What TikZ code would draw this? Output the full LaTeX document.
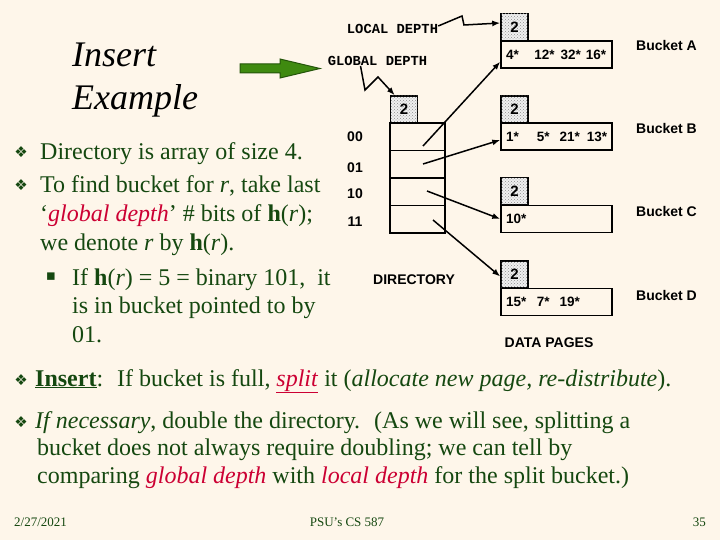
\documentclass[tikz,border=0pt]{standalone}
\usepackage{fontspec}
\setmainfont{Liberation Serif}
\newfontfamily\arialfont{Liberation Sans}
\newfontfamily\courfont{Liberation Mono}
\newfontfamily\dejavu{DejaVu Sans}
\usetikzlibrary{patterns,arrows.meta}

\definecolor{slidebg}{HTML}{FEF6EA}
\definecolor{slidetxt}{HTML}{154810}
\definecolor{hilite}{HTML}{CC0033}
\definecolor{arrowgreen}{HTML}{3F8A10}
\definecolor{arrowdark}{HTML}{24550A}
\newcommand{\hofr}{\textbf{h}(\textit{r})}
\newcommand{\diabul}{{\dejavu\char"2756}}
\newcommand{\sqbul}{{\dejavu\char"25AA}}

\tikzset{
  slidetext/.style={anchor=base west,text=slidetxt,font=\fontsize{24}{28}\selectfont},
  bul/.style={text=slidetxt,font=\dejavu\fontsize{15}{15}\selectfont},
  tag/.style={font=\arialfont\bfseries\fontsize{14}{16}\selectfont},
  mono/.style={font=\courfont\bfseries\fontsize{13.8}{15}\selectfont},
  ldbox/.style={draw,line width=1.5pt,minimum width=27pt,minimum height=27pt,fill=black!6,
    postaction={pattern=crosshatch dots,pattern color=black!45},font=\arialfont\bfseries\fontsize{15}{17}\selectfont},
  record/.style={draw,line width=1.5pt,minimum height=27pt,text width=101pt,inner xsep=5pt,align=left,
    font=\arialfont\bfseries\fontsize{13.5}{15}\selectfont},
  cell/.style={draw,line width=1.5pt,minimum width=55pt,minimum height=27.5pt},
  conn/.style={line width=1.5pt,-{Latex[length=8pt,width=6pt]}}
}

\begin{document}
\begin{tikzpicture}[x=1pt,y=-1pt,every node/.style={inner sep=0pt}]
\useasboundingbox (0,0) rectangle (720,540);
\fill[slidebg] (0,0) rectangle (720,540);

% title and green arrow
\node[anchor=base west,font=\itshape\fontsize{36}{40}\selectfont] (ttl1) at (72,67) {Insert};
\node[anchor=base west,font=\itshape\fontsize{36}{40}\selectfont] (ttl2) at (72,110) {Example};
\filldraw[fill=arrowgreen,draw=arrowdark,line width=1pt]
  (240,64) -- (280,64) -- (280,59) -- (320,68.5) -- (280,78) -- (280,73) -- (240,73) -- cycle;

% bullets on the left
\node[bul] (m1) at (21,152) {\diabul};
\node[bul] (m2) at (21,185) {\diabul};
\node[bul] (m3) at (51,277) {\sqbul};
\node[slidetext] (b1) at (40,160) {Directory is array of size 4.};
\node[slidetext] (b2) at (40,193) {To find bucket for \textit{r}, take last};
\node[slidetext] (b3) at (40,222) {`\textcolor{hilite}{\textit{global depth}}' \# bits of \hofr;};
\node[slidetext] (b4) at (40,251) {we denote \textit{r} by \hofr.};
\node[slidetext] (b5) at (72,285) {If \hofr{} = 5 = binary 101,~ it};
\node[slidetext] (b6) at (72,313) {is in bucket pointed to by};
\node[slidetext] (b7) at (72,342) {01.};

% directory
\node[mono] (gl) at (377.5,61) {GLOBAL DEPTH};
\node[mono] (ld) at (392.5,29) {LOCAL DEPTH};
\node[ldbox] (gd) at (404,109.5) {2};
\node[cell] (d00) at (417.5,136.75) {};
\node[cell] (d01) at (417.5,164.25) {};
\node[cell] (d10) at (417.5,191.75) {};
\node[cell] (d11) at (417.5,219.25) {};
\node[tag] (n00) at (355,137) {00};
\node[tag] (n01) at (355,168) {01};
\node[tag] (n10) at (355,194) {10};
\node[tag] (n11) at (355,222) {11};
\node[tag] (dir) at (414,280) {DIRECTORY};

% buckets
\node[ldbox] (da) at (514.5,27) {2};
\node[record] (ra) at (556.5,54.5) {\mbox{4*\hspace{15.5pt}12*\hspace{6pt}32*\hspace{5pt}16*}};
\node[ldbox] (db) at (514.5,109.5) {2};
\node[record] (rb) at (556.5,136.5) {\mbox{1*\hspace{18pt}5*\hspace{10pt}21*\hspace{7pt}13*}};
\node[ldbox] (dc) at (514.5,191) {2};
\node[record] (rc) at (556.5,219) {10*};
\node[ldbox] (dd) at (514.5,274.5) {2};
\node[record] (rd) at (556.5,302) {\mbox{15*\hspace{10.5pt}7*\hspace{10pt}19*}};
\node[tag] (bka) at (666.5,45) {Bucket A};
\node[tag] (bkb) at (666.5,128) {Bucket B};
\node[tag] (bkc) at (666.5,211) {Bucket C};
\node[tag] (bkd) at (666.5,295) {Bucket D};
\node[tag] (dp) at (549,343) {DATA PAGES};

\coordinate (p00) at (423,146);
\coordinate (p01) at (423,164);
\coordinate (p10) at (427,191);
\coordinate (p11) at (433,220);
\draw[conn] ([yshift=3pt]ld.east) -- (462,16) -- (464,25) -- ([yshift=4pt]da.west);
\draw[conn] ([xshift=-17pt]gl.south) -- (365,90) -- (378,77) -- ([xshift=5pt]gd.north west);
\draw[conn] (p00) -- ([yshift=7pt]ra.south west);
\draw[conn] (p01) -- ([yshift=-3.5pt]rb.west);
\draw[conn] (p10) -- (rc.west);
\draw[conn] (p11) -- ([yshift=-2pt]dd.west);

% bottom bullets
\node[bul] (m4) at (21,380) {\diabul};
\node[bul] (m5) at (21,422) {\diabul};
\node[slidetext] (i1) at (35,386) {\underline{\textbf{Insert}}:~ If bucket is full, \textcolor{hilite}{\underline{\textit{split}}} it (\textit{allocate new page, re-distribute}).};
\node[slidetext] (i2) at (35,428) {\textit{If necessary}, double the directory.~ (As we will see, splitting a};
\node[slidetext] (i3) at (37,455) {bucket does not always require doubling; we can tell by};
\node[slidetext] (i4) at (37,483) {comparing \textcolor{hilite}{\textit{global depth}} with \textcolor{hilite}{\textit{local depth}} for the split bucket.)};

% footer
\node[anchor=base west,text=slidetxt,font=\fontsize{13}{15}\selectfont] (date) at (14,526) {2/27/2021};
\node[anchor=base,text=slidetxt,font=\fontsize{13}{15}\selectfont] (crs) at (347,526) {PSU's CS 587};
\node[anchor=base east,text=slidetxt,font=\fontsize{13}{15}\selectfont] (pg) at (706,526) {35};
\end{tikzpicture}
\end{document}
